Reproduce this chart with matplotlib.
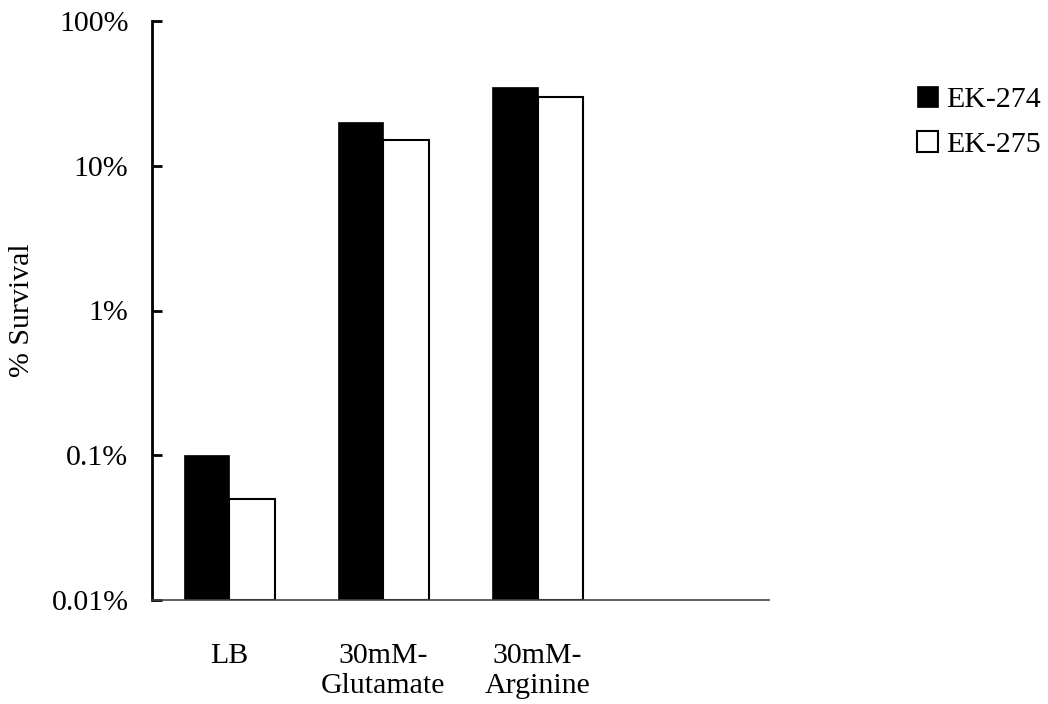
import numpy as np
import matplotlib
matplotlib.use("Agg")
import matplotlib.pyplot as plt
from matplotlib.ticker import FixedLocator, NullLocator

plt.rcParams['font.family'] = ['Liberation Serif', 'DejaVu Serif']

categories = ["LB", "30mM-\nGlutamate", "30mM-\nArginine", ""]
series_names = ["EK-274", "EK-275"]
ek274 = [0.1, 20, 35]
ek275 = [0.05, 15, 30]
ytick_values = [0.01, 0.1, 1, 10, 100]
ytick_labels = ["0.01%", "0.1%", "1%", "10%", "100%"]

fs = 21.5
fig = plt.figure(figsize=(10.48, 7.04), dpi=100)
ax = fig.add_axes([152/1048, 1 - 600/704, 617/1048, 579/704])

x = np.arange(len(ek274))
w = 0.295
bottom = ytick_values[0]
ax.bar(x - w/2, np.array(ek274) - bottom, w, bottom=bottom, color='black',
       edgecolor='black', linewidth=0.5, label=series_names[0])
ax.bar(x + w/2, np.array(ek275) - bottom, w, bottom=bottom, color='white',
       edgecolor='black', linewidth=1.5, label=series_names[1])

ax.set_yscale('log')
ax.set_ylim(ytick_values[0], ytick_values[-1])
ax.set_xlim(-0.5, len(categories) - 0.5)
ax.yaxis.set_major_locator(FixedLocator(ytick_values))
ax.yaxis.set_minor_locator(NullLocator())
ax.set_yticklabels(ytick_labels, fontsize=fs)
ax.tick_params(axis='y', direction='in', length=7, width=2, pad=17)

ax.set_xticks(np.arange(len(categories)))
ax.set_xticklabels(categories, fontsize=fs, linespacing=1.2)
ax.tick_params(axis='x', length=0, pad=31)

for s in ['top', 'right']:
    ax.spines[s].set_visible(False)
ax.spines['left'].set_linewidth(2)
ax.spines['left'].set_color('black')
ax.spines['bottom'].set_linewidth(1.2)
ax.spines['bottom'].set_color('#444444')

ax.set_ylabel("% Survival", fontsize=fs)
ax.yaxis.set_label_coords(-0.19, 0.5)

fig.legend(loc='upper left', bbox_to_anchor=(917/1048, 1 - 86/704),
           frameon=False, fontsize=fs, borderpad=0, borderaxespad=0,
           handlelength=0.7, handleheight=0.7, handletextpad=0.27,
           labelspacing=0.62)

fig.savefig("out.png", dpi=100)
